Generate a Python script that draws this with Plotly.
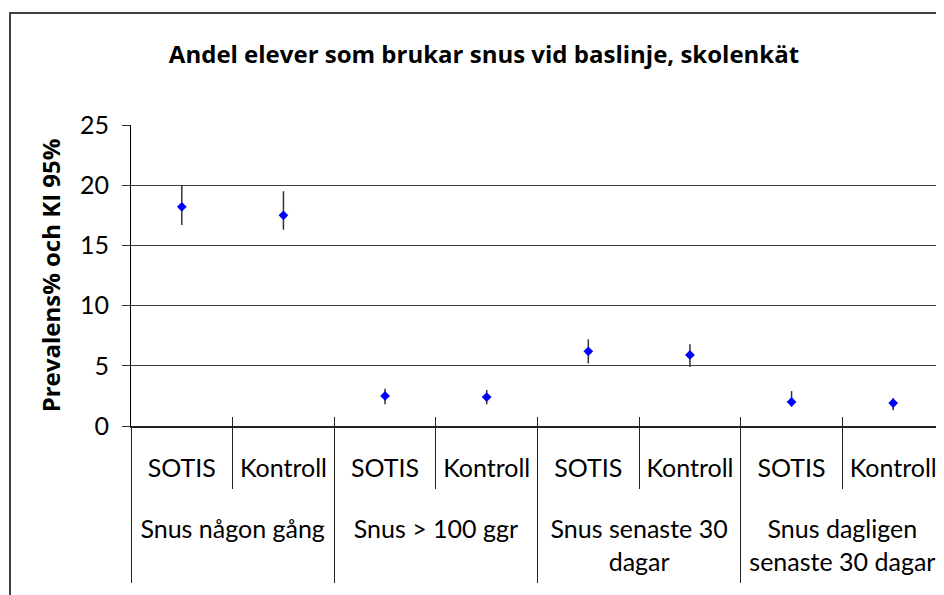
import plotly.graph_objects as go

# ---- data ----
groups = ["Snus någon gång", "Snus > 100 ggr", "Snus senaste 30<br>dagar",
          "Snus dagligen<br>senaste 30 dagar"]
subgroups = ["SOTIS", "Kontroll"]
prevalence = [18.2, 17.5, 2.5, 2.4, 6.2, 5.9, 2.0, 1.9]
ci_low = [16.7, 16.3, 1.8, 1.8, 5.2, 4.9, 1.6, 1.3]
ci_high = [20.0, 19.5, 3.1, 3.0, 7.2, 6.8, 2.9, 2.3]
y_ticks = [0, 5, 10, 15, 20, 25]
title_text = "Andel elever som brukar snus vid baslinje, skolenkät"
y_title = "Prevalens% och KI 95%"

# ---- derived positions (category index scale) ----
n_sub = len(subgroups)
labels = [s for g in groups for s in subgroups]
pos = list(range(len(labels)))
group_centers = [gi * n_sub + (n_sub - 1) / 2 for gi in range(len(groups))]
inner_bounds = group_centers
outer_bounds = [gi * n_sub - 0.5 for gi in range(len(groups) + 1)]
all_bounds = [i - 0.5 for i in range(1, len(labels))]
xr = [-0.5, len(labels) - 0.5]

err_plus = [h - p for h, p in zip(ci_high, prevalence)]
err_minus = [p - l for p, l in zip(prevalence, ci_low)]

FONT = "Lato"
BOLD = "Open Sans"
tick_font = dict(family=FONT, size=25, color="#000")

# page geometry (the html body has an 8px margin)
OFF = 8
W, H = 944 - OFF, 595 - OFF
PL, PT, PR, PB = 131, 125, 944, 426  # plot area in page pixels

fig = go.Figure()
fig.add_trace(go.Scatter(
    x=pos, y=prevalence, mode="markers",
    marker=dict(symbol="diamond", size=7.5, color="#0000FF", line=dict(width=0)),
    error_y=dict(type="data", symmetric=False, array=err_plus, arrayminus=err_minus,
                 color="#333333", thickness=1.5, width=0),
    showlegend=False, hoverinfo="skip"))
for ax in ["x2", "x3", "x4"]:
    fig.add_trace(go.Scatter(x=[], y=[], xaxis=ax, yaxis="y", showlegend=False,
                             hoverinfo="skip"))

common = dict(range=xr, showgrid=False, zeroline=False, fixedrange=True)

fig.update_layout(
    width=W, height=H,
    margin=dict(l=PL - OFF, r=0, t=PT - OFF, b=595 - PB),
    paper_bgcolor="white", plot_bgcolor="white",
    title=dict(text=title_text, x=(484 - OFF) / W, xanchor="center",
               y=1 - (55 - OFF) / H, yanchor="middle",
               font=dict(family=BOLD, size=24, color="#000", weight="bold")),
    xaxis=dict(**common, tickmode="array", tickvals=pos, ticktext=labels, ticks="",
               ticklabelstandoff=19, tickfont=tick_font, showline=True,
               linecolor="#222", linewidth=2),
    xaxis2=dict(**common, overlaying="x", anchor="y", side="bottom", tickmode="array",
                tickvals=group_centers, ticktext=groups, ticks="",
                ticklabelstandoff=86, tickfont=tick_font, showline=False),
    xaxis3=dict(**common, overlaying="x", anchor="y", side="bottom", tickmode="array",
                tickvals=outer_bounds, ticks="outside", ticklen=156, tickcolor="#222",
                tickwidth=1, showticklabels=False, showline=False,
                minor=dict(tickmode="array", tickvals=all_bounds, ticks="inside",
                           ticklen=9, tickcolor="#222", tickwidth=1)),
    xaxis4=dict(**common, overlaying="x", anchor="y", side="bottom", tickmode="array",
                tickvals=inner_bounds, ticks="outside", ticklen=62, tickcolor="#222",
                tickwidth=1, showticklabels=False, showline=False),
    yaxis=dict(range=[0, 25], tickmode="array", tickvals=y_ticks, showgrid=True,
               gridcolor="#404040", gridwidth=1, zeroline=False, ticks="outside",
               ticklen=8, tickcolor="#333", showline=True, linecolor="#000",
               linewidth=1, ticklabelstandoff=8, tickfont=tick_font, fixedrange=True,
               title=dict(text=y_title, standoff=12,
                          font=dict(family=BOLD, size=24, color="#000", weight="bold"))),
    shapes=[dict(type="rect", xref="paper", yref="paper",
                 x0=(10 - PL) / (PR - PL), x1=1.05, y0=-0.7,
                 y1=(PB - 13) / (PB - PT),
                 line=dict(color="#404040", width=2), fillcolor="rgba(0,0,0,0)",
                 layer="below")],
)

fig.write_html("out.html")
